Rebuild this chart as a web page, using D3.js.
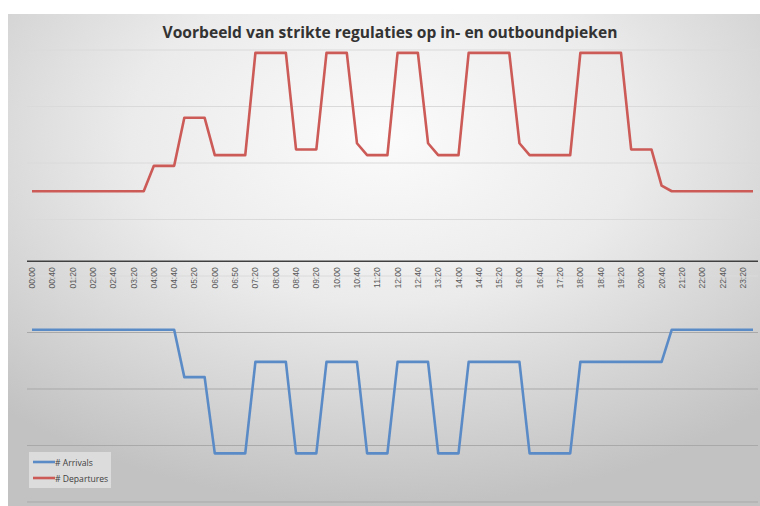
<!DOCTYPE html>
<html>
<head>
<meta charset="utf-8">
<script src="https://cdn.jsdelivr.net/npm/d3@7"></script>
<style>
  html, body { margin: 0; padding: 0; background: #ffffff; }
  svg { display: block; }
</style>
</head>
<body>
<svg id="chart" width="760" height="506"></svg>
<script>
// ---- DATA ----
const title = "Voorbeeld van strikte regulaties op in- en outboundpieken";

// categories (10-minute slots as labelled on the axis; slot 40 is labelled 06:50 in the source)
const categories = [
  "00:00","00:10","00:20","00:30","00:40","00:50","01:00","01:10","01:20","01:30","01:40","01:50",
  "02:00","02:10","02:20","02:30","02:40","02:50","03:00","03:10","03:20","03:30","03:40","03:50",
  "04:00","04:10","04:20","04:30","04:40","04:50","05:00","05:10","05:20","05:30","05:40","05:50",
  "06:00","06:10","06:20","06:30","06:50","06:50b","07:00","07:10","07:20","07:30","07:40","07:50",
  "08:00","08:10","08:20","08:30","08:40","08:50","09:00","09:10","09:20","09:30","09:40","09:50",
  "10:00","10:10","10:20","10:30","10:40","10:50","11:00","11:10","11:20","11:30","11:40","11:50",
  "12:00","12:10","12:20","12:30","12:40","12:50","13:00","13:10","13:20","13:30","13:40","13:50",
  "14:00","14:10","14:20","14:30","14:40","14:50","15:00","15:10","15:20","15:30","15:40","15:50",
  "16:00","16:10","16:20","16:30","16:40","16:50","17:00","17:10","17:20","17:30","17:40","17:50",
  "18:00","18:10","18:20","18:30","18:40","18:50","19:00","19:10","19:20","19:30","19:40","19:50",
  "20:00","20:10","20:20","20:30","20:40","20:50","21:00","21:10","21:20","21:30","21:40","21:50",
  "22:00","22:10","22:20","22:30","22:40","22:50","23:00","23:10","23:20","23:30","23:40"
];
const tickLabels = [
  "00:00","00:40","01:20","02:00","02:40","03:20","04:00","04:40","05:20","06:00","06:50","07:20",
  "08:00","08:40","09:20","10:00","10:40","11:20","12:00","12:40","13:20","14:00","14:40","15:20",
  "16:00","16:40","17:20","18:00","18:40","19:20","20:00","20:40","21:20","22:00","22:40","23:20"
];

// # Departures (plotted upward): vertices of the line
const departureTimes = ["00:00","03:40","04:00","04:40","05:00","05:40","06:00","07:00","07:20","08:20",
  "08:40","09:20","09:40","10:20","10:40","11:00","11:40","12:00","12:40","13:00","13:20","14:00",
  "14:20","15:40","16:00","16:20","17:40","18:00","19:20","19:40","20:20","20:40","21:00","23:40"];
const departureValues = [15,15,19.5,19.5,28,28,21.4,21.4,39.5,39.5,
  22.4,22.4,39.5,39.5,23.5,21.4,21.4,39.5,39.5,23.5,21.4,21.4,
  39.5,39.5,23.5,21.4,21.4,39.5,39.5,22.4,22.4,16,15,15];

// # Arrivals (plotted downward): vertices of the line
const arrivalTimes = ["00:00","04:40","05:00","05:40","06:00","07:00","07:20","08:20","08:40","09:20",
  "09:40","10:40","11:00","11:40","12:00","13:00","13:20","14:00","14:20","16:00","16:20","17:40",
  "18:00","20:40","21:00","23:40"];
const arrivalValues = [-9.5,-9.5,-17.9,-17.9,-31.4,-31.4,-15.2,-15.2,-31.4,-31.4,
  -15.2,-15.2,-31.4,-31.4,-15.2,-15.2,-31.4,-31.4,-15.2,-15.2,-31.4,-31.4,
  -15.2,-15.2,-9.5,-9.5];

const gridValues = [40,30,20,10,0,-10,-20,-30,-40];
const axisCrossValue = 2.6;
const seriesNames = ["# Arrivals", "# Departures"];

// ---- DRAW ----
const svg = d3.select("#chart");
const W = 760, H = 506;

const defs = svg.append("defs");
const rg = defs.append("radialGradient").attr("id","bg")
  .attr("cx","50%").attr("cy","25%").attr("r","75%").attr("fx","50%").attr("fy","25%");
rg.append("stop").attr("offset","0%").attr("stop-color","#fbfbfb");
rg.append("stop").attr("offset","45%").attr("stop-color","#ebebeb");
rg.append("stop").attr("offset","100%").attr("stop-color","#c2c2c2");

svg.append("rect").attr("x",8).attr("y",14).attr("width",W-8).attr("height",H-14)
  .attr("fill","url(#bg)");

const x = d3.scalePoint().domain(d3.range(categories.length)).range([32, 753]);
const y = d3.scaleLinear().domain([-40, 40]).range([502, 50]);
const gx0 = 27, gx1 = 758;

// gridlines
svg.append("g").selectAll("line").data(gridValues).join("line")
  .attr("x1", gx0).attr("x2", gx1)
  .attr("y1", d => y(d)).attr("y2", d => y(d))
  .attr("stroke", d => d < 0 ? "#a9a9a9" : "#dadada")
  .attr("stroke-width", 1);

// x axis line
svg.append("line").attr("x1", gx0).attr("x2", gx1)
  .attr("y1", y(axisCrossValue)).attr("y2", y(axisCrossValue))
  .attr("stroke", "#404040").attr("stroke-width", 1.5);

// tick labels (every 4th category)
const labelIdx = d3.range(0, categories.length, 4);
svg.append("g").selectAll("text").data(labelIdx).join("text")
  .attr("transform", (d) => `translate(${x(d) + 3},${y(axisCrossValue) + 6}) rotate(-90)`)
  .attr("text-anchor", "end")
  .attr("font-family", "Liberation Sans, Arial, sans-serif")
  .attr("font-size", 8.5)
  .attr("fill", "#595959")
  .text((d, i) => tickLabels[i]);

// lines
const idx = t => categories.indexOf(t);
const line = d3.line().x(d => x(d[0])).y(d => y(d[1]));
const depData = departureTimes.map((t, i) => [idx(t), departureValues[i]]);
const arrData = arrivalTimes.map((t, i) => [idx(t), arrivalValues[i]]);

svg.append("path").datum(depData).attr("d", line)
  .attr("fill","none").attr("stroke","#cc5a57").attr("stroke-width",2.6)
  .attr("stroke-linejoin","round");
svg.append("path").datum(arrData).attr("d", line)
  .attr("fill","none").attr("stroke","#5b8bc7").attr("stroke-width",2.6)
  .attr("stroke-linejoin","round");

// title
svg.append("text").attr("x", 390).attr("y", 38)
  .attr("text-anchor","middle")
  .attr("font-family","Open Sans, sans-serif")
  .attr("font-weight","bold")
  .attr("font-size", 15.6)
  .attr("fill","#333333")
  .text(title);

// legend
const lg = svg.append("g").attr("transform","translate(29,452)");
lg.append("rect").attr("width",82).attr("height",36).attr("fill","#e2e2e2").attr("opacity",0.8);
const legendColors = ["#5b8bc7", "#cc5a57"];
seriesNames.forEach((n, i) => {
  const yy = 10 + i * 16;
  lg.append("line").attr("x1",4).attr("x2",26).attr("y1",yy).attr("y2",yy)
    .attr("stroke",legendColors[i]).attr("stroke-width",2.6);
  lg.append("text").attr("x",26).attr("y",yy+3.5)
    .attr("font-family","Open Sans, sans-serif").attr("font-size",8.6)
    .attr("fill","#404040").text(n);
});
</script>
</body>
</html>
